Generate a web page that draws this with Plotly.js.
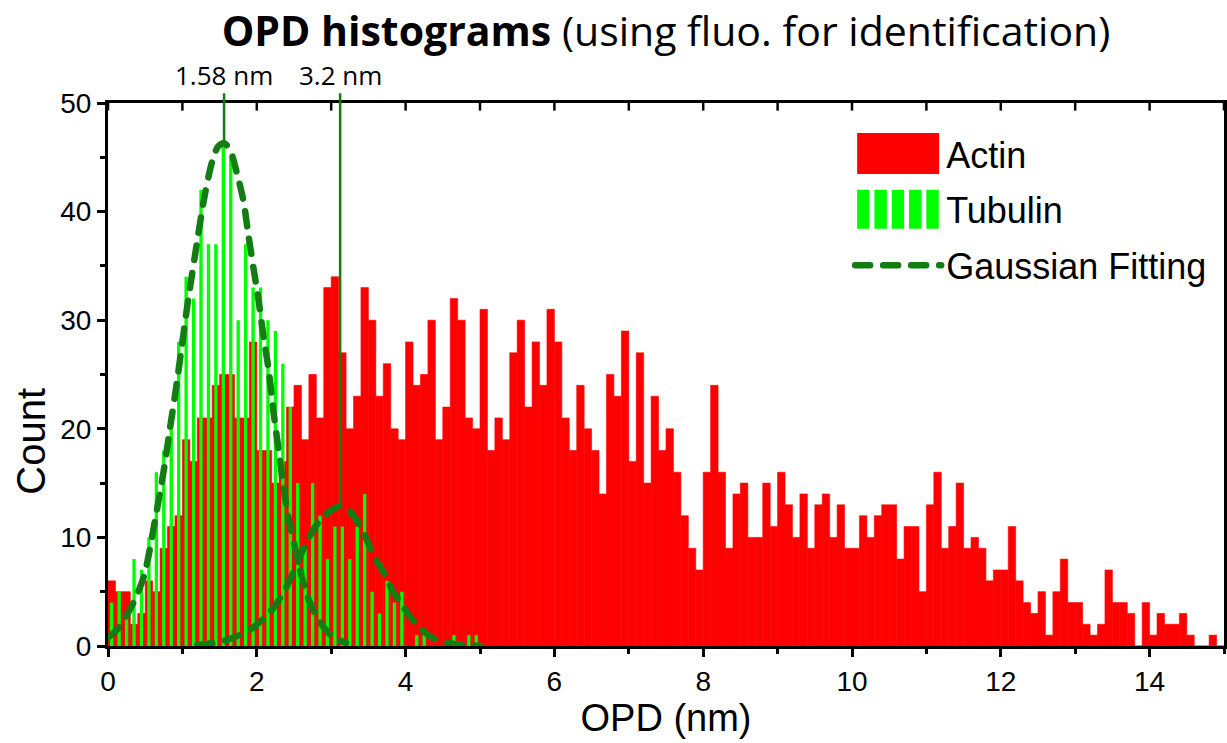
<!DOCTYPE html>
<html>
<head>
<meta charset="utf-8">
<script src="https://cdn.plot.ly/plotly-3.0.1.min.js"></script>
<style>
html,body{margin:0;padding:0;background:#fff;}
#chart{width:1227px;height:743px;}
.js-line{stroke-linecap:round;}
</style>
</head>
<body>
<div id="chart"></div>
<script>
// ---- data ----
const binWidth = 0.1;
const actinCounts = [
  6,5,5,2,3,6,5,9,11,12,
  19,17,21,21,24,25,25,21,21,28,
  18,18,15,17,22,24,19,25,21,33,
  34,27,20,23,33,30,23,26,20,19,
  28,24,25,30,19,22,32,30,21,20,
  31,18,21,19,27,30,22,28,24,31,
  28,21,18,24,20,18,14,25,23,29,
  17,27,15,23,18,20,16,12,9,7,
  16,24,16,9,14,15,10,10,15,11,
  16,13,10,14,9,13,14,10,13,9,
  9,12,10,12,13,13,8,11,11,5,
  13,16,9,11,15,9,10,9,6,7,
  7,11,6,4,3,5,1,5,8,4,
  4,2,1,2,7,4,4,3,0,4,
  1,3,2,2,3,1,0,0,1,0
];
const tubulinCounts = [
  4,5,3,8,7,10,16,18,20,28,
  34,32,42,37,37,46,45,30,37,33,
  33,30,29,26,22,15,9,15,12,8,
  11,11,8,11,14,5,3,6,4,5,
  0,1,1,0,0,0,1,0,1,1
];
const gauss1X = [0,0.12,0.24,0.37,0.49,0.63,0.75,0.83,0.92,0.99,1.08,1.17,1.3,1.4,1.48,1.56,1.64,1.73,1.82,1.89,1.96,2.02,2.09,2.16,2.22,2.29,2.36,2.42,2.51,2.58,2.69,2.82,2.95,3.05,3.2];
const gauss1Y = [0.8,1.5,2.7,4.4,6.6,11.5,16.2,19.9,24,27.5,32,36,41.5,44.6,46,46.3,45.7,43.6,41,37.7,34.6,32,28.5,25.4,21.8,18.2,14.6,12,9.2,7.0,4.4,2.5,1.3,0.7,0.3];
const gauss2X = [1.2,1.45,1.7,1.95,2.2,2.38,2.53,2.67,2.85,3.0,3.12,3.2,3.31,3.45,3.58,3.72,3.83,3.94,4.05,4.17,4.35,4.52,4.75,5.0];
const gauss2Y = [0.1,0.3,0.8,1.7,3.3,5.2,7.4,9.6,11.6,12.5,12.9,12.7,11.9,10.2,8.2,6.6,5.0,3.9,2.8,1.8,0.8,0.35,0.1,0.02];
const peakX = [1.56, 3.12];
const peakY = [46.3, 12.9];
const peakLabels = ['1.58 nm', '3.2 nm'];
const seriesNames = ['Actin', 'Tubulin', 'Gaussian Fitting'];
const xRange = [0, 15];
const yRange = [0, 50];

// ---- build traces ----
const actinX = actinCounts.map((_, i) => +((i + 0.5) * binWidth).toFixed(2));
const tubulinX = tubulinCounts.map((_, i) => +((i + 0.5) * binWidth).toFixed(2));
const fitX = gauss1X.concat([null], gauss2X);
const fitY = gauss1Y.concat([null], gauss2Y);

const green = '#137c13';
const sans = 'Liberation Sans, Arial, sans-serif';
const human = 'Open Sans, Noto Sans, sans-serif';

const traces = [
  {type:'bar', name:seriesNames[0], x:actinX, y:actinCounts, width:binWidth,
   marker:{color:'#ff0000', line:{width:0.6, color:'#ff0000'}}, legendgroup:'a', hoverinfo:'skip'},
  {type:'bar', name:seriesNames[1], x:tubulinX, y:tubulinCounts, width:0.045,
   marker:{color:'#00ff00', line:{width:0}}, legendgroup:'t', hoverinfo:'skip'},
  {type:'scatter', mode:'lines', name:seriesNames[2], x:fitX, y:fitY, connectgaps:false,
   line:{color:green, width:6.5, dash:'15px,13px', shape:'spline', smoothing:0.8},
   legendgroup:'g', hoverinfo:'skip'}
];

const annotations = peakX.map((px, i) => ({
  x:px, y:peakY[i], xref:'x', yref:'y', ax:px, ay:52.6, axref:'x', ayref:'y',
  text:peakLabels[i], showarrow:true, arrowhead:0, arrowwidth:2.5, arrowcolor:green,
  standoff:0, borderpad:0, font:{family:human, size:26, color:'#000'}
}));
annotations.push({
  text:'Count', xref:'paper', yref:'paper', x:-0.069, y:0.378, xanchor:'center', yanchor:'middle',
  textangle:-90, showarrow:false, font:{family:sans, size:40, color:'#000'}
});

// inward ticks along the top frame (axis decoration, one per x unit)
const topTicks = [];
for(let v = xRange[0]; v <= xRange[1]; v += 1){
  topTicks.push({type:'line', xref:'x', yref:'y', x0:v, x1:v, y0:yRange[1], y1:yRange[1] - 0.7,
                 line:{color:'#000', width:2.5}, layer:'above'});
}

const layout = {
  width:1227, height:743,
  margin:{l:108, r:3, t:103, b:97},
  paper_bgcolor:'#fff', plot_bgcolor:'#fff',
  barmode:'overlay',
  showlegend:true,
  title:{text:'<b>OPD histograms</b> (using fluo. for identification)',
         font:{family:human, size:41, color:'#000'},
         xref:'paper', x:0.5, xanchor:'center', yref:'container', y:0.958, yanchor:'middle'},
  xaxis:{range:xRange, dtick:2, tick0:0, ticks:'outside', ticklen:8, tickwidth:2.5, tickcolor:'#000',
         minor:{dtick:1, ticks:'outside', ticklen:5, tickwidth:2.5, tickcolor:'#000'},
         showline:true, linewidth:3, linecolor:'#000', mirror:true,
         showgrid:false, zeroline:false,
         tickfont:{family:sans, size:28, color:'#000'},
         title:{text:'OPD (nm)', font:{family:sans, size:38, color:'#000'}, standoff:6}},
  yaxis:{range:yRange, dtick:10, tick0:0, ticks:'outside', ticklen:8, tickwidth:2.5, tickcolor:'#000',
         minor:{dtick:5, ticks:'outside', ticklen:5, tickwidth:2.5, tickcolor:'#000'},
         showline:true, linewidth:3, linecolor:'#000', mirror:true,
         showgrid:false, zeroline:false,
         tickfont:{family:sans, size:28, color:'#000'}},
  legend:{x:0.665, y:0.962, xanchor:'left', yanchor:'top', bgcolor:'rgba(0,0,0,0)',
          font:{family:sans, size:36, color:'#000'}, itemwidth:86,
          traceorder:'grouped', tracegroupgap:6, itemclick:false, itemdoubleclick:false},
  annotations:annotations,
  shapes:topTicks
};

function enlargeLegendSwatches(){
  const items = document.querySelectorAll('#chart .legend .traces');
  items.forEach((item, idx) => {
    item.querySelectorAll('path').forEach(p => {
      const d = p.getAttribute('d') || '';
      if(d.indexOf('M6,6H-6V-6H6Z') !== 0) return;
      if(idx === 0){
        p.setAttribute('d','M41,20.5H-41V-20.5H41Z');
      } else if(idx === 1){
        let nd = '';
        const w = 12.4, gap = 4.9;
        for(let k=0;k<5;k++){
          const x0 = -41 + k*(w+gap);
          nd += 'M'+x0.toFixed(1)+',19.5h'+w+'v-39h'+(-w)+'Z';
        }
        p.setAttribute('d', nd);
      }
      p.style.strokeWidth = '0px';
    });
  });
}

Plotly.newPlot('chart', traces, layout, {displayModeBar:false}).then(gd => {
  enlargeLegendSwatches();
  gd.on('plotly_afterplot', enlargeLegendSwatches);
});
</script>
</body>
</html>
